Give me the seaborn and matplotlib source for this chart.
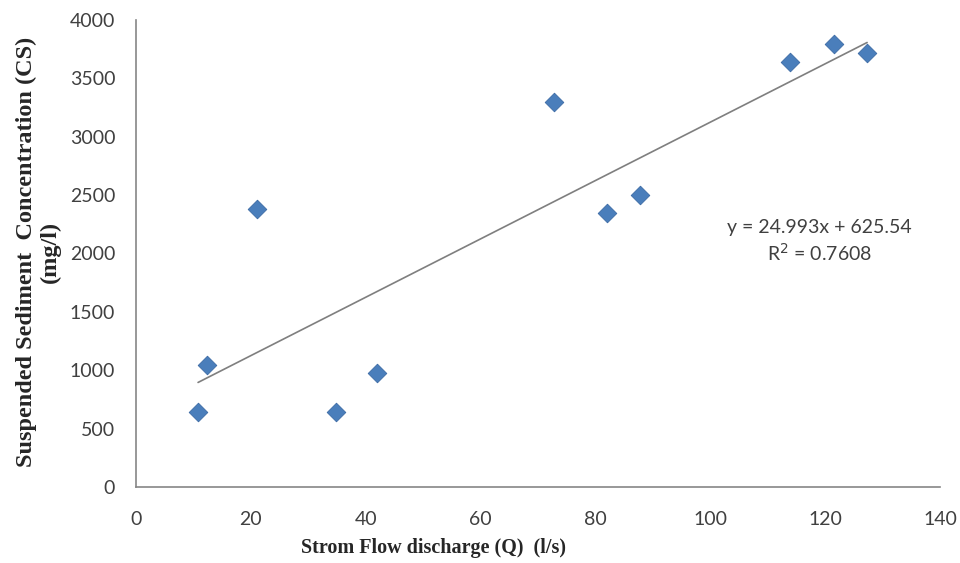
import numpy as np
import pandas as pd
import seaborn as sns
import matplotlib.pyplot as plt

# storm flow discharge (l/s) vs suspended sediment concentration (mg/l)
discharge = [10.8, 12.4, 21.0, 34.8, 42.0, 72.8, 82.0, 87.8, 113.9, 121.5, 127.3]
concentration = [645, 1045, 2380, 645, 975, 3300, 2350, 2500, 3640, 3795, 3720]

# trendline as printed on the chart
slope = 24.993
intercept = 625.54
r2 = 0.7608

x_ticks = list(range(0, 141, 20))
y_ticks = list(range(0, 4001, 500))

df = pd.DataFrame({'Q': discharge, 'CS': concentration})

sns.set_style('white')
plt.rcParams['font.family'] = ['Lato', 'DejaVu Sans']

fig = plt.figure(figsize=(9.6, 5.63), dpi=100)
ax = fig.add_axes([0.1417, 0.135, 0.8375, 0.8295])

sns.scatterplot(data=df, x='Q', y='CS', marker='D', s=90, color='#4A7EBB',
                edgecolor='#3C6AA5', linewidth=0.6, ax=ax, zorder=3)

xs = np.array([min(discharge), max(discharge)])
ax.plot(xs, slope * xs + intercept, color='#7F7F7F', lw=1.2, zorder=2)

ax.text(119, 2220, f'y = {slope}x + {intercept}', ha='center', va='center',
        fontsize=14, color='#404040')
ax.text(119, 2005, f'R$^2$ = {r2}', ha='center', va='center',
        fontsize=14, color='#404040')

ax.set_xlim(0, 140)
ax.set_ylim(0, 4000)
ax.set_xticks(x_ticks)
ax.set_yticks(y_ticks)
ax.set_xlabel('')
ax.set_ylabel('')
ax.tick_params(axis='both', direction='out', length=5, width=1, color='#868686',
               labelsize=14, labelcolor='#404040')
ax.tick_params(axis='x', pad=12)
ax.tick_params(axis='y', pad=10)

for side in ['top', 'right']:
    ax.spines[side].set_visible(False)
for side in ['left', 'bottom']:
    ax.spines[side].set_color('#868686')
    ax.spines[side].set_linewidth(1.2)

# axis titles placed by hand, the x one sits left of centre like the original
fig.text(0.452, 0.027, 'Strom Flow discharge (Q)  (l/s)', family='Liberation Serif',
         fontweight='bold', fontsize=14.5, color='#262626', ha='center', va='center')
fig.text(0.040, 0.552, 'Suspended Sediment  Concentration (CS)\n(mg/l)',
         family='Liberation Serif', fontweight='bold', fontsize=17.5, color='#262626',
         rotation=90, ha='center', va='center', linespacing=1.2)

fig.savefig('out.png', dpi=100, facecolor='white')
